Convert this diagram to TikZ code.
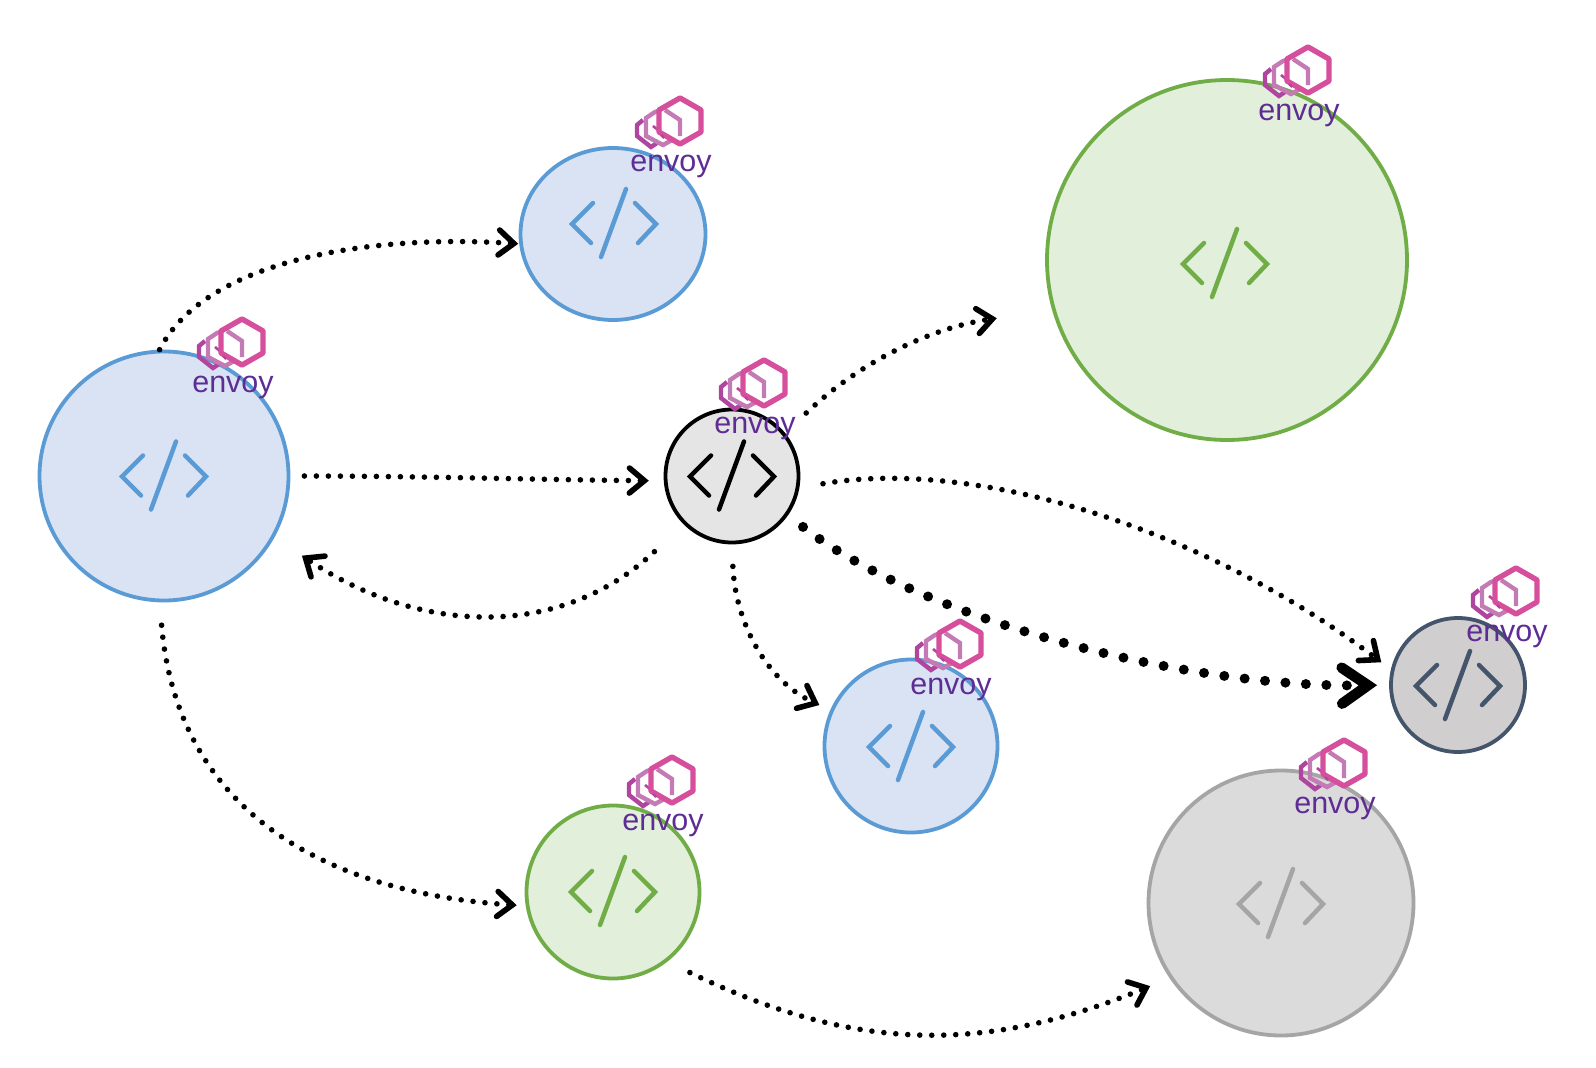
\documentclass[tikz,border=0pt]{standalone}
\usepackage{fontspec}
\setmainfont{Liberation Sans}
\usetikzlibrary{arrows.meta,shapes.geometric}
\definecolor{bluefill}{HTML}{DAE3F3}
\definecolor{blueline}{HTML}{5B9BD5}
\definecolor{greenfill}{HTML}{E2EFDA}
\definecolor{greenline}{HTML}{70AD47}
\definecolor{grayfill}{HTML}{DBDBDB}
\definecolor{grayline}{HTML}{A5A5A5}
\definecolor{darkfill}{HTML}{D0CECE}
\definecolor{darkline}{HTML}{44546A}
\definecolor{centerfill}{HTML}{E5E5E5}
\definecolor{envoybig}{HTML}{D64F9C}
\definecolor{envoymid}{HTML}{C47AB4}
\definecolor{envoysmall}{HTML}{B0459F}
\definecolor{envoytext}{HTML}{5E2D94}
\tikzset{
  x=1pt,y=-1pt,
  svc/.style={circle,draw=#1,line width=3.8pt,inner sep=0pt},
  bluesvc/.style={svc=blueline,fill=bluefill},
  greensvc/.style={svc=greenline,fill=greenfill},
  graysvc/.style={svc=grayline,fill=grayfill},
  darksvc/.style={svc=darkline,fill=darkfill},
  centersvc/.style={svc=black,fill=centerfill},
  conn/.style={dash pattern=on 0pt off 12pt,line cap=round,line width=5.6pt,
    -{Straight Barb[length=15pt,width=25pt,line width=5.6pt,line cap=round,line join=miter]}},
  heavy/.style={dash pattern=on 0pt off 20.5pt,line cap=round,line width=10pt,
    -{Straight Barb[length=26pt,width=36pt,line width=10.5pt,line cap=round,line join=miter]}},
  pics/codeicon/.style={code={
    \draw[#1,line width=4.5pt,line cap=round,line join=miter]
      (-21,-20) -- (-42,1) -- (-23,20)
      (21,-20) -- (42,1) -- (24,20)
      (12,-34) -- (-13,34);
  }},
  pics/envoylogo/.style={code={
    \draw[envoysmall,line width=4.4pt,line join=miter]
      (-37,-1) -- (-43,4) -- (-43,15) -- (-29,26) -- (-23,22);
    \draw[envoymid,line width=4.4pt,line join=miter]
      (-22,-10) -- (-25,-9) -- (-34,-3) -- (-34,15) -- (-17,24) -- (-8,19);
    \draw[envoysmall,line width=2.6pt] (-27,5) -- (-22,9);
    \draw[envoymid,line width=4.4pt,line join=miter] (-15,-11) -- (0,-1) -- (0,15);
    \draw[envoybig,line width=5.4pt,line join=round]
      (0,-23) -- (21,-11) -- (21,11) -- (0,23) -- (-21,11) -- (-21,-11) -- cycle;
    \draw[envoysmall,line width=2.2pt] (-19,14) -- (-16,17);
    \node[anchor=base,inner sep=0pt,text=envoytext,font=\fontsize{30.5}{32}\selectfont] (-label) at (-9,50) {envoy};
  }},
}
\begin{document}
\begin{tikzpicture}
\useasboundingbox (0,0) rectangle (1596,1068);
% services
\node[bluesvc,minimum size=249pt] (left) at (164,476) {};
\node[bluesvc,ellipse,minimum width=185pt,minimum height=172pt] (top) at (613,234) {};
\node[greensvc,minimum size=360pt] (biggreen) at (1227,260) {};
\node[centersvc,minimum size=133pt] (mid) at (732,476) {};
\node[bluesvc,minimum size=173pt] (lowblue) at (911,746) {};
\node[darksvc,minimum size=134pt] (dark) at (1458,685) {};
\node[greensvc,minimum size=173pt] (smallgreen) at (613,892) {};
\node[graysvc,minimum size=265pt] (gray) at (1281,903) {};
% icons
\pic at (164,475.5) {codeicon=blueline};
\pic at (614,223) {codeicon=blueline};
\pic at (1225,263) {codeicon=greenline};
\pic at (732,475.5) {codeicon=black};
\pic at (911,746) {codeicon=blueline};
\pic at (1458,685) {codeicon=darkline};
\pic at (613,891) {codeicon=greenline};
\pic at (1281,903) {codeicon=grayline};
% connectors
\draw[conn,shorten >=1pt] (left.92) .. controls (205,260) and (370,234) .. (top.186);
\draw[conn,shorten <=14pt,shorten >=15pt] (left.east) .. controls (420,476) and (550,480) .. (mid.184);
\draw[conn,shorten <=40pt,shorten >=33pt] (mid.225) .. controls (560,640) and (420,635) .. (left.-29);
\draw[conn,shorten <=29pt,shorten >=56pt] (mid.39) .. controls (860,362) and (930,328) .. (biggreen.196);
\draw[conn,shorten <=24pt,shorten >=12pt] (mid.-10) .. controls (970,458) and (1200,525) .. (dark.167);
\draw[heavy,shorten <=19pt,shorten >=12pt] (mid.-35) .. controls (920,618) and (1180,688) .. (dark.west);
\draw[conn,shorten <=22pt,shorten >=12pt] (mid.south) .. controls (735,620) and (765,680) .. (lowblue.156);
\draw[conn,shorten <=23pt,shorten >=9pt] (left.-92) .. controls (178,815) and (330,893) .. (smallgreen.189);
\draw[conn,shorten <=25pt,shorten >=21pt] (smallgreen.-52) .. controls (850,1050) and (980,1056) .. (gray.214);
% envoy badges
\pic (e1) at (242,342) {envoylogo};
\pic (e2) at (680,121) {envoylogo};
\pic (e3) at (1308,70) {envoylogo};
\pic (e4) at (764,383) {envoylogo};
\pic (e5) at (960,644) {envoylogo};
\pic (e6) at (1516,591) {envoylogo};
\pic (e7) at (672,780) {envoylogo};
\pic (e8) at (1344,763) {envoylogo};
\end{tikzpicture}
\end{document}
